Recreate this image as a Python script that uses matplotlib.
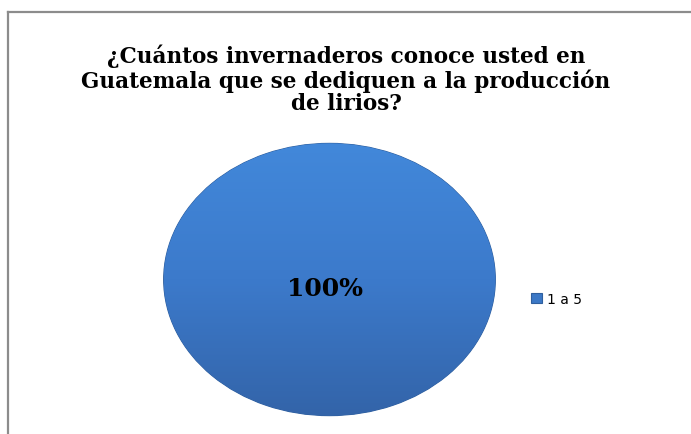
import numpy as np
import matplotlib.pyplot as plt
from matplotlib.lines import Line2D
from matplotlib.colors import LinearSegmentedColormap

# datos
categorias = ["1 a 5"]
valores = [100]
titulo = "¿Cuántos invernaderos conoce usted en\nGuatemala que se dediquen a la producción\nde lirios?"

W, H = 691, 435
fig = plt.figure(figsize=(W / 100, H / 100), dpi=100)

# marco gris del cuadro
fig.add_artist(Line2D([8 / W, 8 / W], [0, 1 - 13 / H], color="#8c8c8c", lw=1.6))
fig.add_artist(Line2D([8 / W, 1], [1 - 13 / H, 1 - 13 / H], color="#8c8c8c", lw=1.6))

fig.text(346 / W, 1 - 80 / H, titulo, ha="center", va="center",
         family="DejaVu Serif", weight="bold", fontsize=15.5, linespacing=1.04)

ax = fig.add_axes([162 / W, 17 / H, 335 / W, 275 / H])
wedges, textos = ax.pie(valores, colors=["#3b78c6"], startangle=90,
                        wedgeprops=dict(edgecolor="#2f5f9e", linewidth=0.8))
ax.set_aspect("auto")
ax.set_xlim(-1.01, 1.01)
ax.set_ylim(-1.01, 1.01)

# degradado vertical dentro de la porción
cmap = LinearSegmentedColormap.from_list("azul", ["#3364a9", "#3c7acb", "#4288da"])
grad = np.linspace(0, 1, 256).reshape(-1, 1)
img = ax.imshow(grad, cmap=cmap, origin="lower", extent=(-1, 1, -1, 1),
                aspect="auto", zorder=wedges[0].get_zorder() + 0.1)
img.set_clip_path(wedges[0])

ax.text(-0.03, -0.06, f"{valores[0]}%", ha="center", va="center",
        family="DejaVu Serif", weight="bold", fontsize=18, zorder=5)

leg = fig.legend(wedges, categorias, loc="center left",
                 bbox_to_anchor=(518 / W, 1 - 300 / H), frameon=False,
                 prop=dict(family="DejaVu Sans", size=10),
                 handlelength=0.8, handleheight=0.8, handletextpad=0.4)

fig.savefig("out.png", dpi=100)
